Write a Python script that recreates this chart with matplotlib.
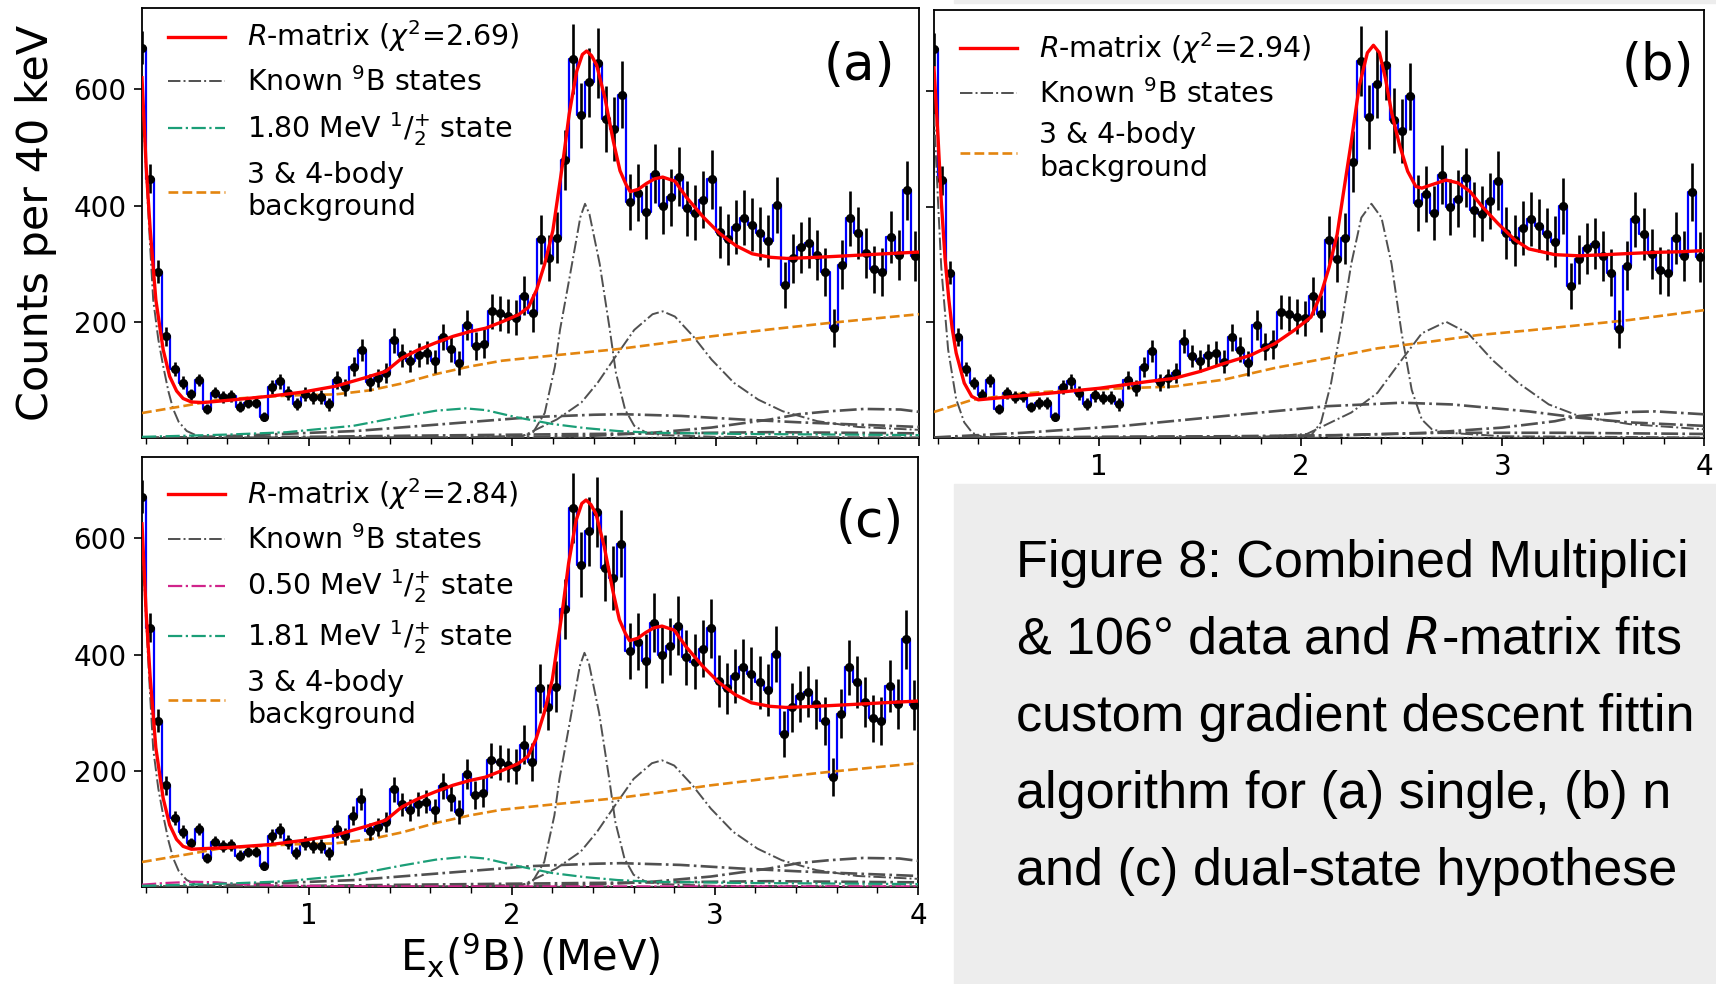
"""
Combined multiplicity data with R-matrix fits: (a) single, (b) no-state, (c) dual-state.
"""

import matplotlib
matplotlib.use("Agg")
import matplotlib.pyplot as plt
from matplotlib.patches import Rectangle
from matplotlib.ticker import MultipleLocator
import numpy as np

plt.rcParams["font.family"] = ["DejaVu Sans"]
plt.rcParams["mathtext.fontset"] = "dejavusans"

# ---------------------------------------------------------------------------
# Data: 40 keV bins, centres from 0.18 MeV
# ---------------------------------------------------------------------------
BIN_START = 0.18
BIN_WIDTH = 0.04

COUNTS = [
    672, 446, 286, 175, 119, 95, 75, 100, 50, 78,
    71, 72, 54, 61, 61, 37, 88, 98, 78, 59,
    75, 70, 70, 58, 100, 87, 123, 151, 96, 103,
    112, 168, 142, 133, 143, 147, 132, 174, 153, 129,
    195, 158, 162, 218, 215, 210, 207, 245, 215, 342,
    310, 345, 478, 652, 555, 612, 645, 549, 531, 591,
    406, 422, 389, 455, 399, 414, 450, 395, 388, 410,
    445, 355, 342, 363, 379, 367, 352, 339, 401, 263,
    309, 328, 336, 315, 286, 189, 298, 378, 353, 318,
    290, 286, 346, 315, 426, 313,
]
ERRORS = [
    28, 25, 20, 16, 12, 11, 10, 11, 8, 10,
    10, 10, 9, 10, 10, 8, 12, 13, 12, 10,
    12, 12, 12, 11, 15, 14, 17, 19, 15, 16,
    17, 21, 19, 19, 20, 20, 20, 23, 22, 21,
    26, 24, 25, 30, 30, 30, 30, 33, 32, 42,
    40, 44, 52, 60, 56, 59, 60, 56, 55, 58,
    48, 49, 47, 51, 48, 49, 51, 48, 47, 49,
    51, 45, 44, 46, 47, 46, 45, 44, 48, 40,
    42, 44, 44, 43, 41, 33, 42, 47, 45, 43,
    41, 41, 45, 43, 50, 43,
]

# ---------------------------------------------------------------------------
# Fit curves (energy in MeV, counts per 40 keV)
# ---------------------------------------------------------------------------
# Panels (a) and (c)
RM_AC_E = [0.18, 0.20, 0.22, 0.248, 0.284, 0.316, 0.35, 0.382, 0.423, 0.48,
           0.61, 0.81, 0.97, 1.13, 1.28, 1.38, 1.46, 1.54, 1.625, 1.71,
           1.79, 1.87, 1.95, 2.03, 2.08, 2.12, 2.16, 2.20, 2.25, 2.28,
           2.317, 2.345, 2.366, 2.39, 2.415, 2.456, 2.497, 2.53, 2.56, 2.58,
           2.62, 2.66, 2.70, 2.74, 2.80, 2.857, 2.94, 3.02, 3.10, 3.18,
           3.27, 3.35, 3.50, 3.67, 3.83, 4.00]
RM_A_Y = [620, 470, 360, 238, 152, 106, 81, 68, 62, 61,
          65, 72, 79, 89, 104, 115, 138, 152, 164, 175,
          183, 189, 200, 212, 225, 255, 300, 357, 477, 557,
          631, 660, 666, 658, 642, 585, 511, 460, 436, 424,
          428, 438, 446, 449, 442, 414, 380, 352, 331, 317,
          311, 309, 311, 314, 317, 320]
RM_C_Y = [625, 475, 362, 240, 153, 107, 82, 70, 65, 66,
          68, 73, 80, 89, 104, 115, 138, 152, 164, 175,
          183, 189, 200, 212, 225, 255, 300, 357, 477, 557,
          631, 660, 666, 658, 642, 585, 511, 460, 436, 424,
          428, 438, 446, 449, 442, 414, 380, 352, 331, 317,
          311, 309, 311, 314, 317, 320]

GS_AC_E = [0.18, 0.20, 0.22, 0.235, 0.26, 0.284, 0.31, 0.333, 0.36, 0.40, 0.45, 0.55, 1.0, 4.0]
GS_AC_Y = [610, 460, 330, 238, 170, 124, 80, 50, 28, 12, 4, 1, 0.5, 0.3]

S2345_AC_E = [0.18, 1.8, 2.05, 2.10, 2.16, 2.21, 2.235, 2.284, 2.335, 2.358, 2.38,
              2.43, 2.48, 2.51, 2.555, 2.60, 2.66, 2.74, 3.0, 4.0]
S2345_AC_Y = [0, 1, 4, 8, 43, 123, 186, 280, 380, 403, 385,
              300, 186, 112, 49, 21, 9, 5, 2, 1]

S275_AC_E = [0.18, 1.8, 2.05, 2.22, 2.34, 2.42, 2.51, 2.60, 2.69, 2.74, 2.80,
             2.89, 2.98, 3.09, 3.21, 3.33, 3.50, 3.70, 4.0]
S275_AC_Y = [0, 1, 3, 32, 61, 95, 141, 186, 213, 218, 209,
             175, 135, 95, 66, 46, 29, 19, 14]

BROAD1_AC_E = [0.18, 0.5, 0.80, 1.23, 1.52, 1.81, 2.10, 2.40, 2.54, 2.83, 3.12, 3.41, 3.70, 4.0]
BROAD1_AC_Y = [0, 2, 6, 12, 20, 28, 36, 40, 41, 38, 32, 27, 23, 19]

BROAD2_AC_E = [0.18, 2.0, 2.40, 2.69, 2.98, 3.27, 3.41, 3.56, 3.73, 3.91, 4.0]
BROAD2_AC_Y = [0, 1, 4, 9, 18, 32, 41, 46, 50, 49, 45]

LOW_AC_E = [0.18, 1.0, 1.52, 2.10, 2.69, 3.27, 4.0]
LOW_AC_Y = [0, 2, 4, 6, 8, 10, 8]

BKG_AC_E = [0.18, 0.40, 0.56, 0.78, 0.97, 1.13, 1.30, 1.46, 1.625, 1.79,
            1.95, 2.20, 2.52, 2.74, 2.98, 3.27, 3.56, 3.79, 4.0]
BKG_AC_Y = [43, 56, 66, 71, 74, 75, 82, 94, 110, 123,
            133, 142, 153, 163, 175, 187, 198, 206, 213]

STATE180_E = [0.18, 0.40, 0.61, 0.89, 1.22, 1.46, 1.625, 1.77, 1.87, 2.03,
              2.20, 2.36, 2.52, 2.69, 3.12, 3.56, 4.0]
STATE180_Y = [2, 4, 6, 10, 21, 37, 47, 51, 48, 35,
              24, 17, 12, 9, 7, 6, 5]
STATE181_Y = [2, 4, 6, 10, 21, 37, 47, 52, 49, 36,
              24, 17, 12, 9, 7, 6, 5]

STATE050_E = [0.18, 0.30, 0.44, 0.55, 0.64, 0.80, 0.94, 1.3, 4.0]
STATE050_Y = [4, 7, 9, 8, 5, 3, 2, 1, 1]

# Panel (b)
RM_B_E = [0.18, 0.20, 0.216, 0.235, 0.254, 0.27, 0.29, 0.33, 0.367, 0.40,
          0.49, 0.74, 1.00, 1.25, 1.37, 1.50, 1.62, 1.75, 1.87, 1.97,
          2.05, 2.10, 2.14, 2.18, 2.21, 2.25, 2.29, 2.33, 2.36, 2.39,
          2.42, 2.45, 2.49, 2.53, 2.57, 2.60, 2.65, 2.72, 2.78, 2.84,
          2.90, 2.98, 3.06, 3.13, 3.26, 3.38, 3.51, 3.63, 3.76, 3.88, 4.0]
RM_B_Y = [640, 520, 410, 310, 238, 190, 147, 95, 72, 66,
          69, 77, 86, 98, 103, 115, 129, 143, 163, 187,
          209, 249, 295, 352, 421, 512, 609, 666, 679, 666,
          621, 563, 506, 461, 435, 432, 438, 446, 441, 426,
          400, 370, 343, 327, 317, 315, 317, 319, 321, 322, 324]

GS_B_E = [0.18, 0.20, 0.216, 0.25, 0.29, 0.33, 0.37, 0.42, 0.55, 4.0]
GS_B_Y = [560, 409, 295, 153, 67, 27, 9, 2, 0.5, 0.3]

S2345_B_E = [0.18, 1.8, 2.05, 2.10, 2.15, 2.20, 2.25, 2.30, 2.35, 2.40, 2.45,
             2.50, 2.55, 2.60, 2.65, 2.73, 3.0, 4.0]
S2345_B_Y = [0, 1, 4, 27, 95, 193, 301, 381, 405, 381, 301,
             181, 83, 32, 15, 9, 3, 1]

S275_B_E = [0.18, 1.8, 2.03, 2.25, 2.38, 2.50, 2.60, 2.72, 2.83, 2.95,
            3.08, 3.23, 3.38, 3.63, 4.0]
S275_B_Y = [0, 2, 7, 44, 78, 135, 181, 201, 181, 135,
            95, 58, 38, 24, 15]

BROAD1_B_E = [0.18, 0.62, 1.12, 1.62, 2.13, 2.38, 2.50, 2.75, 3.13, 3.38, 3.63, 4.0]
BROAD1_B_Y = [1, 9, 21, 38, 55, 59, 61, 58, 46, 35, 27, 21]

BROAD2_B_E = [0.18, 2.0, 2.63, 3.0, 3.26, 3.38, 3.63, 3.76, 4.0]
BROAD2_B_Y = [0, 3, 9, 18, 29, 38, 45, 46, 41]

LOW_B_E = [0.18, 1.0, 1.62, 2.2, 2.69, 3.3, 4.0]
LOW_B_Y = [0, 2, 3, 5, 9, 9, 7]

BKG_B_E = [0.18, 0.37, 0.62, 0.87, 1.12, 1.37, 1.62, 1.87, 2.13, 2.38,
           2.63, 2.88, 3.13, 3.38, 3.63, 4.0]
BKG_B_Y = [45, 66, 77, 83, 86, 89, 101, 121, 138, 155,
           166, 178, 186, 195, 204, 221]

CHI2 = {"a": 2.69, "b": 2.94, "c": 2.84}

CAPTION_LINES = [
    "Figure 8: Combined Multiplici",
    "& 106\u00b0 data and $R$-matrix fits",
    "custom gradient descent fittin",
    "algorithm for (a) single, (b) n",
    "and (c) dual-state hypothese",
]

# ---------------------------------------------------------------------------
# Styles
# ---------------------------------------------------------------------------
GRAY = "#505050"
GREEN = "#1b9e77"
MAGENTA = "#d0248b"
ORANGE = "#e3850f"

W, H = 1716, 984
fig = plt.figure(figsize=(W / 100, H / 100), dpi=100)


def px_axes(left, top, right, bottom):
    return fig.add_axes([left / W, 1 - bottom / H, (right - left) / W, (bottom - top) / H])


ax_a = px_axes(142, 8, 919, 438)
ax_b = px_axes(934, 10, 1704, 438)
ax_c = px_axes(142, 457, 918, 887)

centres = np.round(BIN_START + BIN_WIDTH * np.arange(len(COUNTS)), 3)


def draw_data(ax):
    ax.step(centres, COUNTS, where="mid", color="blue", lw=1.6, zorder=2)
    ax.errorbar(centres, COUNTS, yerr=ERRORS, fmt="o", color="black",
                ms=5.5, elinewidth=1.9, capsize=0, zorder=4)


def draw_known(ax, curves):
    for i, (e, y) in enumerate(curves):
        lw = 1.4 if i < 3 else 1.9
        ax.plot(e, y, color=GRAY, ls="-.", lw=lw, zorder=3,
                label=r"Known $^{9}$B states" if i == 0 else None)


def style_axes(ax, show_xlabels, show_ylabels):
    ax.set_xlim(0.18, 4.0)
    ax.set_ylim(0, 740)
    ax.set_xticks([1, 2, 3, 4])
    ax.xaxis.set_minor_locator(MultipleLocator(0.2))
    ax.set_yticks([200, 400, 600])
    ax.tick_params(axis="both", which="major", length=6, width=1.2, labelsize=20, pad=5)
    ax.tick_params(axis="x", which="minor", length=4, width=1.0)
    if not show_xlabels:
        ax.tick_params(axis="x", labelbottom=False)
    if not show_ylabels:
        ax.tick_params(axis="y", labelleft=False)
    for s in ax.spines.values():
        s.set_linewidth(1.3)


# (a) single state
draw_data(ax_a)
ax_a.plot(RM_AC_E, RM_A_Y, color="red", lw=2.4, zorder=5,
          label=r"$R$-matrix ($\chi^2$=%.2f)" % CHI2["a"])
draw_known(ax_a, [(GS_AC_E, GS_AC_Y), (S2345_AC_E, S2345_AC_Y), (S275_AC_E, S275_AC_Y),
                  (BROAD1_AC_E, BROAD1_AC_Y), (BROAD2_AC_E, BROAD2_AC_Y), (LOW_AC_E, LOW_AC_Y)])
ax_a.plot(STATE180_E, STATE180_Y, color=GREEN, ls="-.", lw=1.6, zorder=3,
          label=r"1.80 MeV $^{1}/_{2}^{+}$ state")
ax_a.plot(BKG_AC_E, BKG_AC_Y, color=ORANGE, ls="--", lw=1.9, zorder=3,
          label="3 & 4-body\nbackground")

# (b) no additional state
draw_data(ax_b)
ax_b.plot(RM_B_E, RM_B_Y, color="red", lw=2.4, zorder=5,
          label=r"$R$-matrix ($\chi^2$=%.2f)" % CHI2["b"])
draw_known(ax_b, [(GS_B_E, GS_B_Y), (S2345_B_E, S2345_B_Y), (S275_B_E, S275_B_Y),
                  (BROAD1_B_E, BROAD1_B_Y), (BROAD2_B_E, BROAD2_B_Y), (LOW_B_E, LOW_B_Y)])
ax_b.plot(BKG_B_E, BKG_B_Y, color=ORANGE, ls="--", lw=1.9, zorder=3,
          label="3 & 4-body\nbackground")

# (c) dual state
draw_data(ax_c)
ax_c.plot(RM_AC_E, RM_C_Y, color="red", lw=2.4, zorder=5,
          label=r"$R$-matrix ($\chi^2$=%.2f)" % CHI2["c"])
draw_known(ax_c, [(GS_AC_E, GS_AC_Y), (S2345_AC_E, S2345_AC_Y), (S275_AC_E, S275_AC_Y),
                  (BROAD1_AC_E, BROAD1_AC_Y), (BROAD2_AC_E, BROAD2_AC_Y), (LOW_AC_E, LOW_AC_Y)])
ax_c.plot(STATE050_E, STATE050_Y, color=MAGENTA, ls="-.", lw=1.6, zorder=3,
          label=r"0.50 MeV $^{1}/_{2}^{+}$ state")
ax_c.plot(STATE180_E, STATE181_Y, color=GREEN, ls="-.", lw=1.6, zorder=3,
          label=r"1.81 MeV $^{1}/_{2}^{+}$ state")
ax_c.plot(BKG_AC_E, BKG_AC_Y, color=ORANGE, ls="--", lw=1.9, zorder=3,
          label="3 & 4-body\nbackground")

style_axes(ax_a, False, True)
style_axes(ax_b, True, False)
style_axes(ax_c, True, True)

for ax, tag, (tx, ty), top in [(ax_a, "(a)", (0.923, 0.865), 1.035),
                               (ax_b, "(b)", (0.940, 0.869), 1.013),
                               (ax_c, "(c)", (0.938, 0.847), 1.015)]:
    ax.legend(loc="upper left", bbox_to_anchor=(0, top), frameon=False,
              fontsize=20.5, handlelength=2.0, labelspacing=0.45)
    ax.text(tx, ty, tag, transform=ax.transAxes, ha="center", va="center", fontsize=37)

ax_a.set_ylabel("Counts per 40 keV", fontsize=31)
ax_a.yaxis.set_label_coords(-0.11, 0.5)
ax_c.set_xlabel(r"E$_{\mathrm{x}}$($^{9}$B) (MeV)", fontsize=30, labelpad=0)

# caption panel
fig.patches.append(Rectangle((954 / W, 0), 1 - 954 / W, 1 - 484 / H,
                             transform=fig.transFigure, color="#ededed", zorder=0))
fig.patches.append(Rectangle((954 / W, 1 - 3 / H), 1 - 954 / W, 3 / H,
                             transform=fig.transFigure, color="#ededed", zorder=0))
for i, line in enumerate(CAPTION_LINES):
    fig.text(1016 / W, 1 - (577 + 77 * i) / H, line, ha="left", va="baseline",
             fontsize=37.5, family=["Liberation Sans", "DejaVu Sans"])

fig.savefig("out.png", dpi=100)
